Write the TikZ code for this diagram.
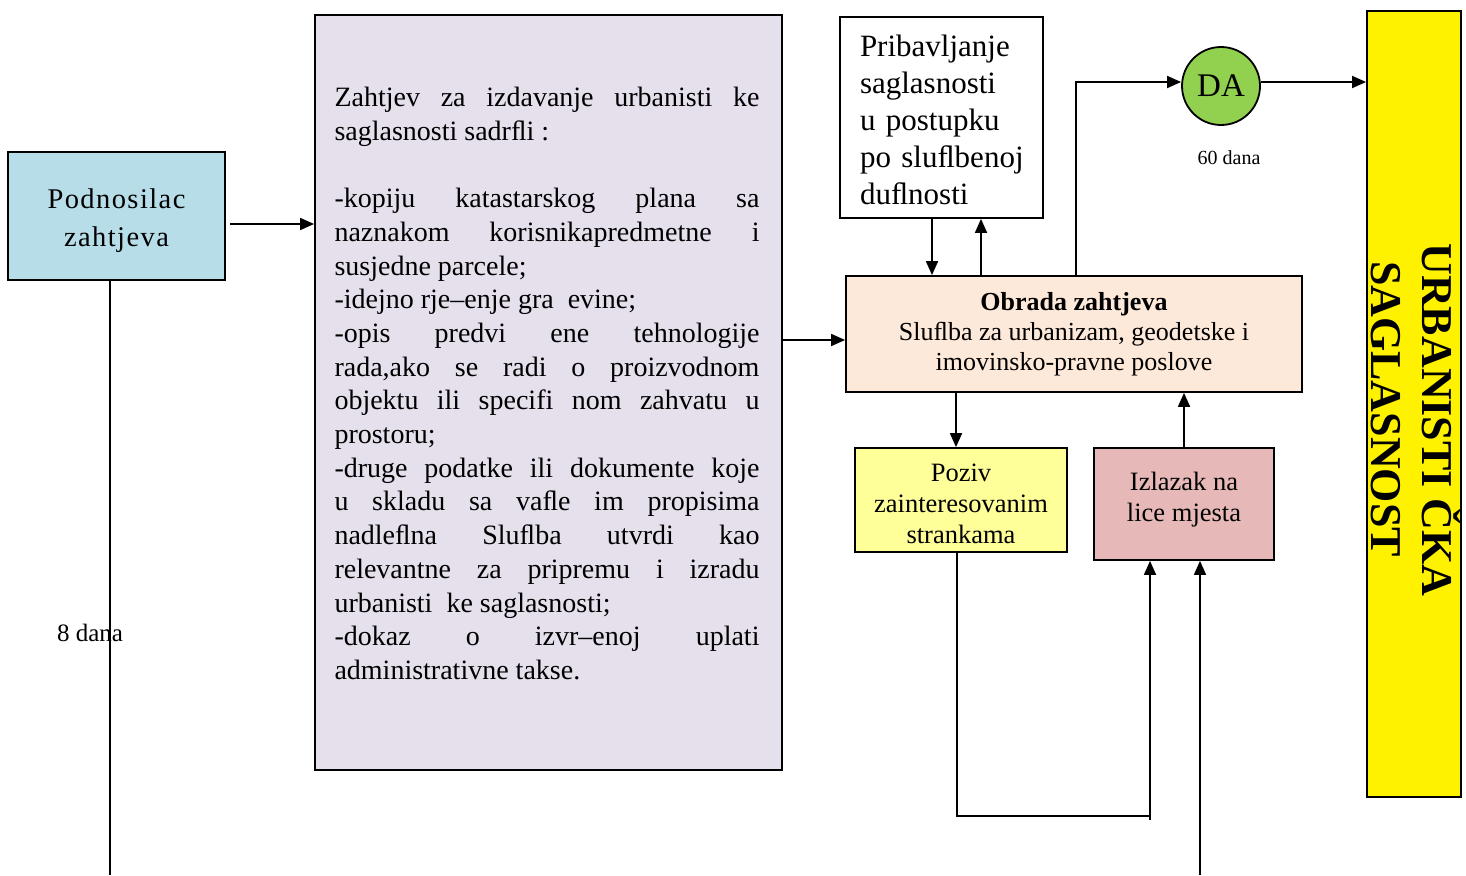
\documentclass[tikz,border=0pt]{standalone}
\usepackage{fontspec}
\setmainfont{Liberation Serif}
\usetikzlibrary{arrows.meta,calc,positioning}
\tolerance=10000
\hbadness=10000
\hyphenpenalty=10000

\definecolor{podblue}{HTML}{B7DDE8}
\definecolor{zahlila}{HTML}{E5E0EC}
\definecolor{obrpeach}{HTML}{FDE9D9}
\definecolor{pozyellow}{HTML}{FFFF99}
\definecolor{izlrose}{HTML}{E6B9B8}
\definecolor{dagreen}{HTML}{92D050}

% shift a line of text without changing the size of its box
\newcommand{\shiftline}[2]{\raisebox{#1}[\height][\depth]{#2}}

\begin{document}
\begin{tikzpicture}[
        x=1pt, y=-1pt,
        >={Triangle[length=14pt,width=12pt]},
        line width=1.8pt,
        box/.style = {draw, line width=1.8pt, inner sep=0pt, align=center},
        bigtext/.style = {font=\fontsize{28}{33.7}\selectfont},
        midtext/.style = {font=\fontsize{26.5}{31}\selectfont},
        daynote/.style = {inner sep=0pt}]

    \useasboundingbox (0,0) rectangle (1466,875);

    % boxes
    \node (pod) at (116.5,216) [box, fill=podblue, minimum width=217pt, minimum height=128pt,
        font=\fontsize{28.5}{38}\selectfont\addfontfeature{LetterSpace=5}]
        {\shiftline{-5pt}{Podnosilac}\\\shiftline{-5pt}{zahtjeva}};
    \node (zah) at (548.5,392.5) [box, fill=zahlila, minimum width=467pt, minimum height=755pt] {};
    \node (zahtxt) at ([xshift=-1.5pt,yshift=9pt]zah.center) [inner sep=0pt, text width=425pt,
        align=justify, bigtext] {Zahtjev za izdavanje urbanisti ke\linebreak
        saglasnosti sadrﬂi :\\[33.7pt]
        -kopiju katastarskog plana sa\linebreak
        naznakom korisnikapredmetne i\linebreak
        susjedne parcele;\\
        -idejno rje–enje gra\ \ evine;\\
        -opis predvi ene tehnologije\linebreak
        rada,ako se radi o proizvodnom\linebreak
        objektu ili specifi nom zahvatu u\linebreak
        prostoru;\\
        -druge podatke ili dokumente koje\linebreak
        u skladu sa vaﬂe im propisima\linebreak
        nadleﬂna Sluﬂba utvrdi kao\linebreak
        relevantne za pripremu i izradu\linebreak
        urbanisti\ \ ke saglasnosti;\\
        -dokaz o izvr–enoj uplati\linebreak
        administrativne takse.};
    \node (pri) at (941.5,117.5) [box, fill=white, minimum width=203pt, minimum height=201pt,
        text width=163pt, align=left, font=\fontsize{31}{37}\selectfont]
        {\shiftline{-2pt}{Pribavljanje}\\\shiftline{-2pt}{saglasnosti}\\\shiftline{-2pt}{u postupku}\\
         \shiftline{-2pt}{po sluﬂbenoj}\\\shiftline{-2pt}{duﬂnosti}};
    \node (obr) at (1074,334) [box, fill=obrpeach, minimum width=456pt, minimum height=116pt,
        font=\fontsize{26}{30}\selectfont]
        {\textbf{Obrada zahtjeva}\\Sluﬂba za urbanizam, geodetske i\\imovinsko-pravne poslove};
    \node (poz) at (961,500) [box, fill=pozyellow, minimum width=212pt, minimum height=104pt,
        midtext] {\shiftline{-4pt}{Poziv}\\\shiftline{-4pt}{zainteresovanim}\\\shiftline{-4pt}{strankama}};
    \node (izl) at (1184,504) [box, fill=izlrose, minimum width=180pt, minimum height=112pt,
        midtext] {\shiftline{4pt}{Izlazak na}\\\shiftline{4pt}{lice mjesta}};
    \node (da) at (1221,86) [box, circle, fill=dagreen, minimum size=78pt,
        font=\fontsize{33}{38}\selectfont] {DA};
    \node (urb) at (1414,404) [box, fill=yellow, minimum width=94pt, minimum height=786pt] {};
    \node (urbtxt) at (1416,420) [rotate=-90, align=center,
        font=\bfseries\fontsize{44}{51}\selectfont] {URBANISTI ČKA\\\hspace*{-22pt}SAGLASNOST};

    % notes
    \node (osam) at (90,633) [daynote, font=\fontsize{25}{28}\selectfont] {8 dana};
    \node (sest) at (1229,158) [daynote, font=\fontsize{20}{24}\selectfont] {60 dana};

    \coordinate (podend) at (110,875);
    \coordinate (pozturn) at (1150,816);
    \coordinate (izlin1) at (1150,820);
    \coordinate (izlin2) at (1200,875);

    % connectors
    \draw[->] ([xshift=4pt,yshift=-8pt]pod.east) -- ([yshift=-8pt]pod.east -| zah.west);
    \draw[->] ([yshift=-6pt]obr.west -| zah.east) -- ([yshift=-6pt]obr.west);
    \draw[->] ([xshift=-9.5pt]pri.south) -- ([xshift=-9.5pt]pri.south |- obr.north);
    \draw[->] ([xshift=39.5pt]pri.south |- obr.north) -- ([xshift=39.5pt]pri.south);
    \draw[->] ([xshift=2pt]obr.north) |- ([yshift=4pt]da.west);
    \draw[->] ([yshift=4pt]da.east) -- ([yshift=4pt]da.east -| urb.west);
    \draw[->] ([xshift=-5pt]poz.north |- obr.south) -- ([xshift=-5pt]poz.north);
    \draw[->] (izl.north) -- (izl.north |- obr.south);
    \draw (pod.south -| podend) -- (podend);
    \draw ([xshift=-4pt]poz.south) |- (pozturn);
    \draw[->] (izlin1) -- (izlin1 |- izl.south);
    \draw[->] (izlin2) -- (izlin2 |- izl.south);

\end{tikzpicture}
\end{document}
